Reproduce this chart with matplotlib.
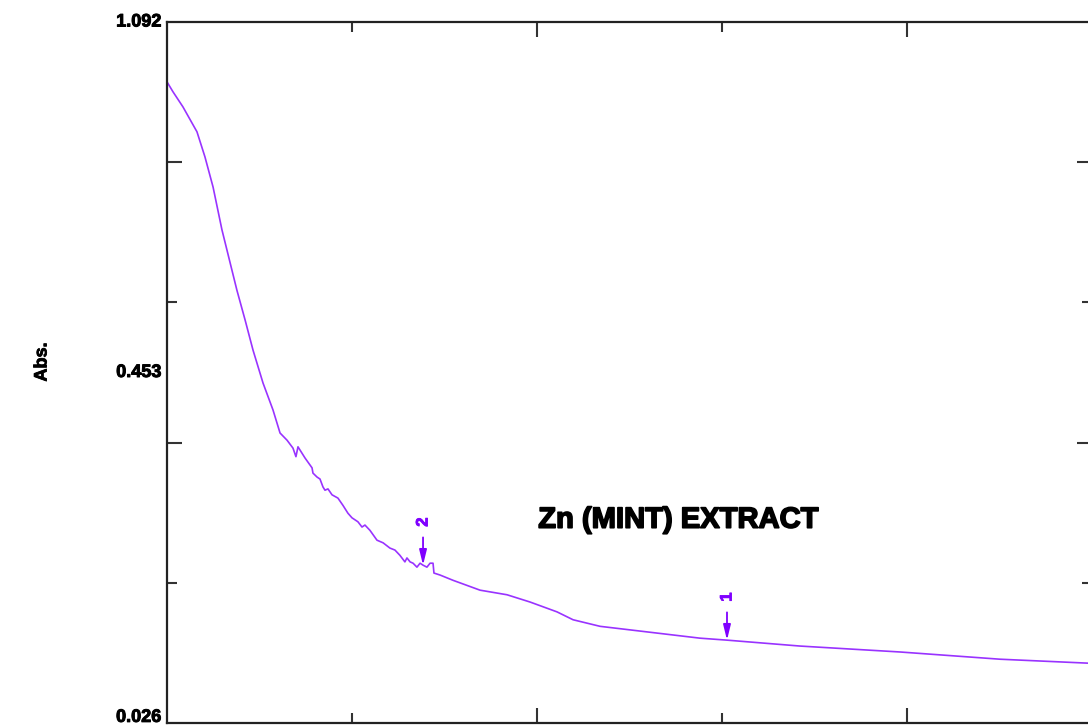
import matplotlib
matplotlib.use("Agg")
import matplotlib.pyplot as plt
import matplotlib.patheffects as pe
from matplotlib.ticker import FixedLocator, NullFormatter

# --- DATA ---
wavelength = [200.0, 203.2, 208.6, 216.2, 220.5, 224.9, 229.7, 234.1, 237.8, 242.2,
              246.5, 251.9, 257.3, 261.1, 264.9, 268.1, 269.7, 270.8, 274.6, 278.4,
              278.9, 281.1, 282.7, 284.3, 285.4, 287.0, 289.2, 292.4, 295.1, 297.8,
              300.0, 303.2, 305.4, 307.0, 309.7, 313.5, 316.8, 320.5, 323.2, 325.9,
              328.6, 329.7, 331.4, 333.0, 335.1, 336.8, 338.4, 340.5, 342.2, 343.8,
              344.3, 347.6, 354.6, 369.2, 383.8, 396.2, 410.8, 419.5, 434.1, 461.1,
              488.1, 502.7, 542.2, 596.2, 650.3, 697.8]
absorb = [1.001, 0.986, 0.963, 0.925, 0.887, 0.841, 0.776, 0.726, 0.684, 0.639,
          0.593, 0.543, 0.502, 0.467, 0.456, 0.444, 0.431, 0.446, 0.429, 0.414,
          0.406, 0.400, 0.397, 0.385, 0.380, 0.382, 0.373, 0.368, 0.357, 0.345,
          0.338, 0.332, 0.324, 0.327, 0.319, 0.304, 0.300, 0.292, 0.289, 0.281,
          0.271, 0.277, 0.271, 0.269, 0.263, 0.269, 0.266, 0.263, 0.269, 0.269,
          0.254, 0.251, 0.243, 0.228, 0.221, 0.210, 0.195, 0.183, 0.173, 0.164,
          0.155, 0.152, 0.143, 0.134, 0.123, 0.117]

peak_labels = ["1", "2"]
peak_wl = [502.7, 338.4]
peak_abs = [0.152, 0.266]

y_min, y_max = 0.026, 1.092
ytick_labels = ["0.026", "0.453", "1.092"]
title = "Zn (MINT) EXTRACT"

line_col = "#9933ff"
mark_col = "#8000ff"

plt.rcParams['font.family'] = ['Liberation Sans', 'DejaVu Sans']

fig = plt.figure(figsize=(10.88, 7.26), dpi=100)
ax = fig.add_axes([167 / 1088, 3 / 726, 925 / 1088, 701 / 726])

ax.plot(wavelength, absorb, color=line_col, lw=1.2)

# peak markers
for lab, wl, a in zip(peak_labels, peak_wl, peak_abs):
    ax.annotate("", xy=(wl, a), xytext=(0, 20), textcoords="offset points",
                arrowprops=dict(arrowstyle="-|>,head_length=0.9,head_width=0.22",
                                color=mark_col, lw=1.3, mutation_scale=10,
                                shrinkA=0, shrinkB=0))
    ax.annotate(lab, xy=(wl, a), xytext=(0, 31), textcoords="offset points",
                rotation=90, ha="center", va="center", color=mark_col,
                fontsize=12, fontweight="bold",
                path_effects=[pe.withStroke(linewidth=0.6, foreground=mark_col)])

ax.text(0.553, 0.29, title, transform=ax.transAxes, ha="center", va="center",
        fontsize=21, fontweight="bold", color="black",
        path_effects=[pe.withStroke(linewidth=1.2, foreground="black")])

ax.set_xlim(200, 700)
ax.set_ylim(y_min, y_max)

# ticks: inward on all four sides, no x labels visible
ax.xaxis.set_major_locator(FixedLocator([400, 600]))
ax.xaxis.set_minor_locator(FixedLocator([300, 500]))
ax.xaxis.set_major_formatter(NullFormatter())
span = y_max - y_min
ax.yaxis.set_major_locator(FixedLocator([y_min + span * f for f in (0.4, 0.8)]))
ax.yaxis.set_minor_locator(FixedLocator([y_min + span * f for f in (0.2, 0.6)]))
ax.yaxis.set_major_formatter(NullFormatter())
ax.tick_params(which="both", direction="in", top=True, right=True, color="#333333")
ax.tick_params(which="major", length=11, width=1.5)
ax.tick_params(which="minor", length=7, width=1.5)

for sp in ax.spines.values():
    sp.set_linewidth(1.6)
    sp.set_color("#222222")

# y value labels
for f, lab in zip((0.0, 0.5, 1.0), ytick_labels):
    ax.text(-0.006, f + (0.008 if f == 0.0 else 0.0), lab, transform=ax.transAxes,
            ha="right", va="center", fontsize=13, fontweight="bold",
            path_effects=[pe.withStroke(linewidth=0.7, foreground="black")])

fig.text(42 / 1088, 1 - 362 / 726, "Abs.", rotation=90, ha="center", va="center",
         fontsize=13, fontweight="bold",
         path_effects=[pe.withStroke(linewidth=0.6, foreground="black")])

fig.savefig("out.png", dpi=100)
